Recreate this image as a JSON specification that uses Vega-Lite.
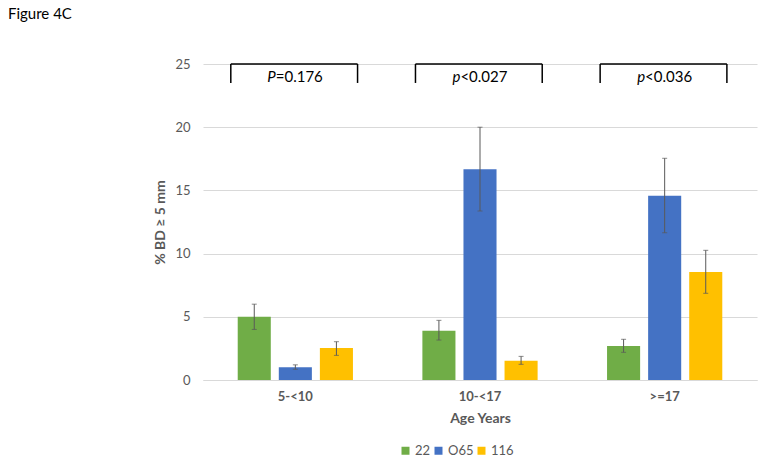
{
  "$schema": "https://vega.github.io/schema/vega-lite/v6.json",
  "width": 554,
  "height": 316,
  "autosize": {"type": "none"},
  "padding": {"left": 203, "top": 64, "right": 7, "bottom": 82},
  "background": "white",
  "config": {
    "font": "Lato",
    "view": {"stroke": null}
  },
  "title": {
    "text": "Figure 4C",
    "anchor": "start",
    "frame": "group",
    "dx": -195,
    "offset": 24,
    "baseline": "alphabetic",
    "fontSize": 15,
    "fontWeight": "normal",
    "color": "#000000"
  },
  "data": {
    "values": [
      {"age": "5-<10", "group": "22", "value": 5.0, "lo": 4.0, "hi": 6.0},
      {"age": "5-<10", "group": "O65", "value": 1.0, "lo": 0.85, "hi": 1.2},
      {"age": "5-<10", "group": "116", "value": 2.53, "lo": 1.95, "hi": 3.03},
      {"age": "10-<17", "group": "22", "value": 3.9, "lo": 3.16, "hi": 4.72},
      {"age": "10-<17", "group": "O65", "value": 16.67, "lo": 13.37, "hi": 20.0},
      {"age": "10-<17", "group": "116", "value": 1.53, "lo": 1.24, "hi": 1.87},
      {"age": ">=17", "group": "22", "value": 2.69, "lo": 2.19, "hi": 3.22},
      {"age": ">=17", "group": "O65", "value": 14.58, "lo": 11.65, "hi": 17.54},
      {"age": ">=17", "group": "116", "value": 8.54, "lo": 6.86, "hi": 10.26}
    ]
  },
  "layer": [
    {
      "mark": {"type": "bar"},
      "encoding": {
        "x": {
          "field": "age", "type": "nominal", "sort": ["5-<10", "10-<17", ">=17"],
          "scale": {"paddingInner": 0.376, "paddingOuter": 0.188},
          "axis": {
            "title": "Age Years", "labelAngle": 0, "ticks": false,
            "domainColor": "#D9D9D9", "labelFontWeight": "bold", "labelFontSize": 13,
            "labelColor": "#595959", "labelPadding": 10, "titleFontSize": 14,
            "titleFontWeight": "bold", "titleColor": "#595959", "titlePadding": 8
          }
        },
        "xOffset": {
          "field": "group", "type": "nominal", "sort": ["22", "O65", "116"],
          "scale": {"paddingInner": 0.195, "paddingOuter": 0}
        },
        "y": {
          "field": "value", "type": "quantitative",
          "scale": {"domain": [0, 25], "nice": false},
          "axis": {
            "title": "% BD \u2265 5 mm", "values": [0, 5, 10, 15, 20, 25], "ticks": false,
            "domain": false, "gridColor": "#D9D9D9", "labelFontSize": 13,
            "labelColor": "#595959", "labelPadding": 13, "titleFontSize": 14,
            "titleFontWeight": "bold", "titleColor": "#595959", "titlePadding": 7
          }
        },
        "color": {
          "field": "group", "type": "nominal", "sort": ["22", "O65", "116"],
          "scale": {"domain": ["22", "O65", "116"], "range": ["#70AD47", "#4472C4", "#FFC000"]},
          "legend": {
            "title": null, "orient": "none", "direction": "horizontal",
            "legendX": 196, "legendY": 380, "symbolType": "square", "symbolSize": 64,
            "symbolStrokeWidth": 0, "labelFontSize": 13, "labelColor": "#595959",
            "columnPadding": 1, "labelOffset": 3
          }
        }
      }
    },
    {
      "mark": {"type": "rule", "color": "#595959", "strokeWidth": 1},
      "encoding": {
        "x": {"field": "age", "type": "nominal", "sort": ["5-<10", "10-<17", ">=17"]},
        "xOffset": {"field": "group", "type": "nominal", "sort": ["22", "O65", "116"]},
        "y": {"field": "lo", "type": "quantitative"},
        "y2": {"field": "hi"}
      }
    },
    {
      "mark": {"type": "tick", "color": "#595959", "thickness": 1, "size": 5},
      "encoding": {
        "x": {"field": "age", "type": "nominal", "sort": ["5-<10", "10-<17", ">=17"]},
        "xOffset": {"field": "group", "type": "nominal", "sort": ["22", "O65", "116"]},
        "y": {"field": "hi", "type": "quantitative"}
      }
    },
    {
      "mark": {"type": "tick", "color": "#595959", "thickness": 1, "size": 5},
      "encoding": {
        "x": {"field": "age", "type": "nominal", "sort": ["5-<10", "10-<17", ">=17"]},
        "xOffset": {"field": "group", "type": "nominal", "sort": ["22", "O65", "116"]},
        "y": {"field": "lo", "type": "quantitative"}
      }
    },
    {
      "data": {"name": "brackets", "values": [
        {"age": "5-<10", "top": 25, "bottom": 23.5, "ty": 23.95, "p": "P", "rest": "=0.176"},
        {"age": "10-<17", "top": 25, "bottom": 23.5, "ty": 23.95, "p": "p", "rest": "<0.027"},
        {"age": ">=17", "top": 25, "bottom": 23.5, "ty": 23.95, "p": "p", "rest": "<0.036"}
      ]},
      "layer": [
        {
          "mark": {"type": "rule", "color": "#000000", "strokeWidth": 1.5},
          "encoding": {
            "x": {"field": "age", "type": "nominal", "sort": ["5-<10", "10-<17", ">=17"], "bandPosition": -0.06},
            "x2": {"field": "age", "bandPosition": 1.04},
            "y": {"field": "top", "type": "quantitative"}
          }
        },
        {
          "mark": {"type": "rule", "color": "#000000", "strokeWidth": 1.5},
          "encoding": {
            "x": {"field": "age", "type": "nominal", "sort": ["5-<10", "10-<17", ">=17"], "bandPosition": -0.06},
            "y": {"field": "bottom", "type": "quantitative"},
            "y2": {"field": "top"}
          }
        },
        {
          "mark": {"type": "rule", "color": "#000000", "strokeWidth": 1.5},
          "encoding": {
            "x": {"field": "age", "type": "nominal", "sort": ["5-<10", "10-<17", ">=17"], "bandPosition": 1.04},
            "y": {"field": "bottom", "type": "quantitative"},
            "y2": {"field": "top"}
          }
        },
        {
          "mark": {"type": "text", "align": "right", "baseline": "middle", "fontSize": 15, "fontStyle": "italic", "color": "#000000"},
          "encoding": {
            "x": {"field": "age", "type": "nominal", "sort": ["5-<10", "10-<17", ">=17"], "bandPosition": 0.33},
            "y": {"field": "ty", "type": "quantitative"},
            "text": {"field": "p"}
          }
        },
        {
          "mark": {"type": "text", "align": "left", "baseline": "middle", "fontSize": 15, "color": "#000000"},
          "encoding": {
            "x": {"field": "age", "type": "nominal", "sort": ["5-<10", "10-<17", ">=17"], "bandPosition": 0.33},
            "y": {"field": "ty", "type": "quantitative"},
            "text": {"field": "rest"}
          }
        }
      ]
    }
  ]
}
